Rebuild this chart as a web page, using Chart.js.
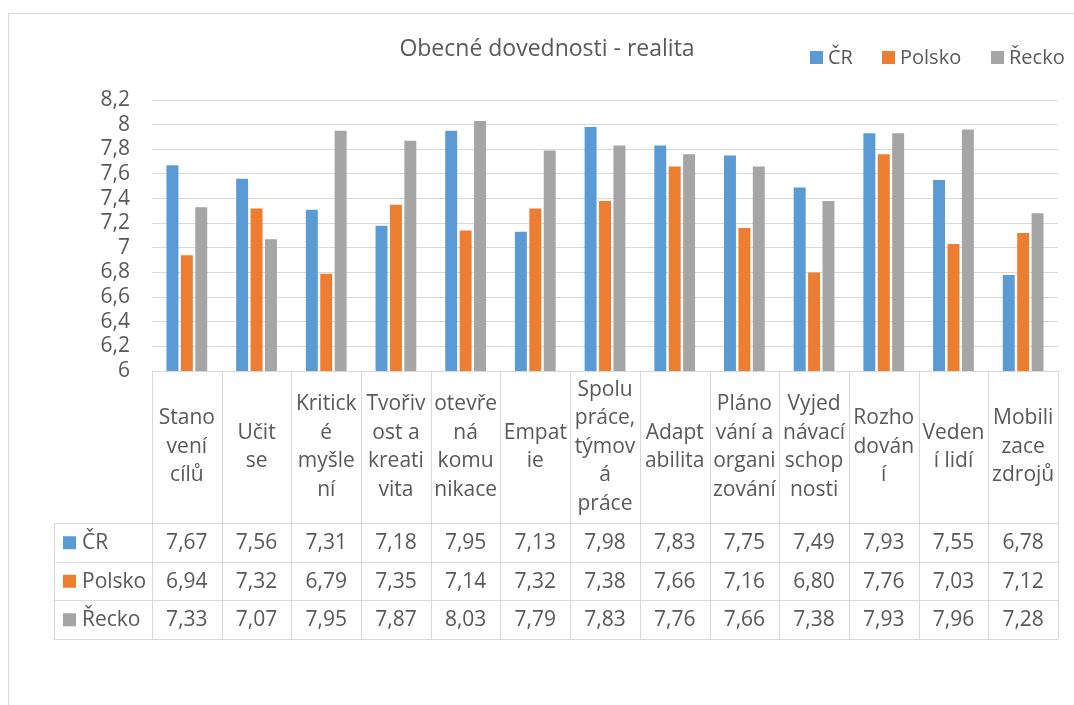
<!DOCTYPE html>
<html>
<head>
<meta charset="utf-8">
<script src="https://cdn.jsdelivr.net/npm/chart.js@4/dist/chart.umd.min.js"></script>
<style>
  html, body { margin: 0; padding: 0; background: #fff; overflow: hidden; }
  #wrap { position: relative; width: 1074px; height: 705px; }
  #frame { position: absolute; left: 8px; top: 13px; width: 1100px; height: 760px; border: 1px solid #d9d9d9; box-sizing: border-box; }
  #chart { position: absolute; left: 0; top: 0; }
</style>
</head>
<body>
<div id="wrap">
  <div id="frame"></div>
  <canvas id="chart" width="1074" height="705"></canvas>
</div>
<script>
// Category labels, wrapped the way the spreadsheet wraps them
const categories = [
    ['Stano', 'vení', 'cílů'],
    ['Učit', 'se'],
    ['Kritick', 'é', 'myšle', 'ní'],
    ['Tvořiv', 'ost a', 'kreati', 'vita'],
    ['otevře', 'ná', 'komu', 'nikace'],
    ['Empat', 'ie'],
    ['Spolu', 'práce,', 'týmov', 'á', 'práce'],
    ['Adapt', 'abilita'],
    ['Pláno', 'vání a', 'organi', 'zování'],
    ['Vyjed', 'návací', 'schop', 'nosti'],
    ['Rozho', 'dován', 'í'],
    ['Veden', 'í lidí'],
    ['Mobili', 'zace', 'zdrojů']
];

const seriesNames = ['ČR', 'Polsko', 'Řecko'];
const seriesColors = ['#5B9BD5', '#ED7D31', '#A5A5A5'];

const crValues = [7.67, 7.56, 7.31, 7.18, 7.95, 7.13, 7.98, 7.83, 7.75, 7.49, 7.93, 7.55, 6.78];
const polskoValues = [6.94, 7.32, 6.79, 7.35, 7.14, 7.32, 7.38, 7.66, 7.16, 6.80, 7.76, 7.03, 7.12];
const reckoValues = [7.33, 7.07, 7.95, 7.87, 8.03, 7.79, 7.83, 7.76, 7.66, 7.38, 7.93, 7.96, 7.28];

const chartTitle = 'Obecné dovednosti - realita';

const TEXT = '#595959';
const LINE = '#d9d9d9';
const FONT = '"Open Sans", "DejaVu Sans", sans-serif';

const allSeries = [crValues, polskoValues, reckoValues];

function fmt(v, digits) {
    return v.toFixed(digits).replace('.', ',');
}

// Title, legend and the data table under the plot
const tablePlugin = {
    id: 'dataTable',
    afterDraw(chart) {
        const ctx = chart.ctx;
        const area = chart.chartArea;
        const xs = chart.scales.x;
        const colW = (area.right - area.left) / categories.length;
        const top = area.bottom;
        const headBottom = 523;
        const rowH = 38.5;
        const tableLeft = 54;
        const rowsBottom = headBottom + rowH * 3;

        ctx.save();

        // title
        ctx.fillStyle = TEXT;
        ctx.font = '23px ' + FONT;
        ctx.textAlign = 'center';
        ctx.textBaseline = 'middle';
        ctx.fillText(chartTitle, 547, 49);

        // legend
        const legendX = [810, 882, 991];
        ctx.font = '20px ' + FONT;
        ctx.textAlign = 'left';
        seriesNames.forEach((name, i) => {
            ctx.fillStyle = seriesColors[i];
            ctx.fillRect(legendX[i], 51, 13, 13);
            ctx.fillStyle = TEXT;
            ctx.fillText(name, legendX[i] + 18, 58);
        });

        // grid of the table
        ctx.strokeStyle = LINE;
        ctx.lineWidth = 1;
        ctx.beginPath();
        ctx.moveTo(area.left, top + 0.5);
        ctx.lineTo(area.right, top + 0.5);
        for (let r = 0; r <= 3; r++) {
            const y = Math.round(headBottom + rowH * r) + 0.5;
            ctx.moveTo(tableLeft, y);
            ctx.lineTo(area.right, y);
        }
        for (let c = 0; c <= categories.length; c++) {
            const x = Math.round(area.left + colW * c) + 0.5;
            ctx.moveTo(x, top);
            ctx.lineTo(x, rowsBottom);
        }
        ctx.moveTo(tableLeft + 0.5, headBottom);
        ctx.lineTo(tableLeft + 0.5, rowsBottom);
        ctx.stroke();

        // category header
        ctx.fillStyle = TEXT;
        ctx.font = '21px ' + FONT;
        ctx.textAlign = 'center';
        ctx.textBaseline = 'middle';
        const lineH = 28.5;
        const headMid = (top + headBottom) / 2;
        categories.forEach((lines, i) => {
            const cx = xs.getPixelForValue(i);
            const y0 = headMid - (lines.length - 1) * lineH / 2;
            lines.forEach((t, k) => ctx.fillText(t, cx, y0 + k * lineH));
        });

        // value rows
        allSeries.forEach((vals, r) => {
            const cy = headBottom + rowH * r + rowH / 2 + 1;
            ctx.fillStyle = seriesColors[r];
            ctx.fillRect(tableLeft + 9, cy - 7, 13, 13);
            ctx.fillStyle = TEXT;
            ctx.textAlign = 'left';
            ctx.fillText(seriesNames[r], tableLeft + 28, cy);
            ctx.textAlign = 'center';
            vals.forEach((v, i) => ctx.fillText(fmt(v, 2), xs.getPixelForValue(i), cy));
        });

        ctx.restore();
    }
};

new Chart(document.getElementById('chart'), {
    type: 'bar',
    data: {
        labels: categories.map(l => l.join('')),
        datasets: seriesNames.map((name, i) => ({
            label: name,
            data: allSeries[i],
            backgroundColor: seriesColors[i],
            borderWidth: 0,
            categoryPercentage: 0.62,
            barPercentage: 0.83
        }))
    },
    options: {
        responsive: false,
        animation: false,
        layout: {
            padding: { top: 100, right: 16, bottom: 334, left: 0 }
        },
        plugins: {
            legend: { display: false },
            title: { display: false },
            tooltip: { enabled: false }
        },
        scales: {
            x: { display: false },
            y: {
                min: 6,
                max: 8.2,
                afterFit: scale => { scale.width = 152; },
                ticks: {
                    stepSize: 0.2,
                    autoSkip: false,
                    padding: 22,
                    color: TEXT,
                    font: { family: FONT, size: 21 },
                    callback: v => fmt(Math.round(v * 10) / 10, 1).replace(/,0$/, '')
                },
                grid: { color: LINE, drawTicks: false },
                border: { display: false }
            }
        }
    },
    plugins: [tablePlugin]
});
</script>
</body>
</html>
